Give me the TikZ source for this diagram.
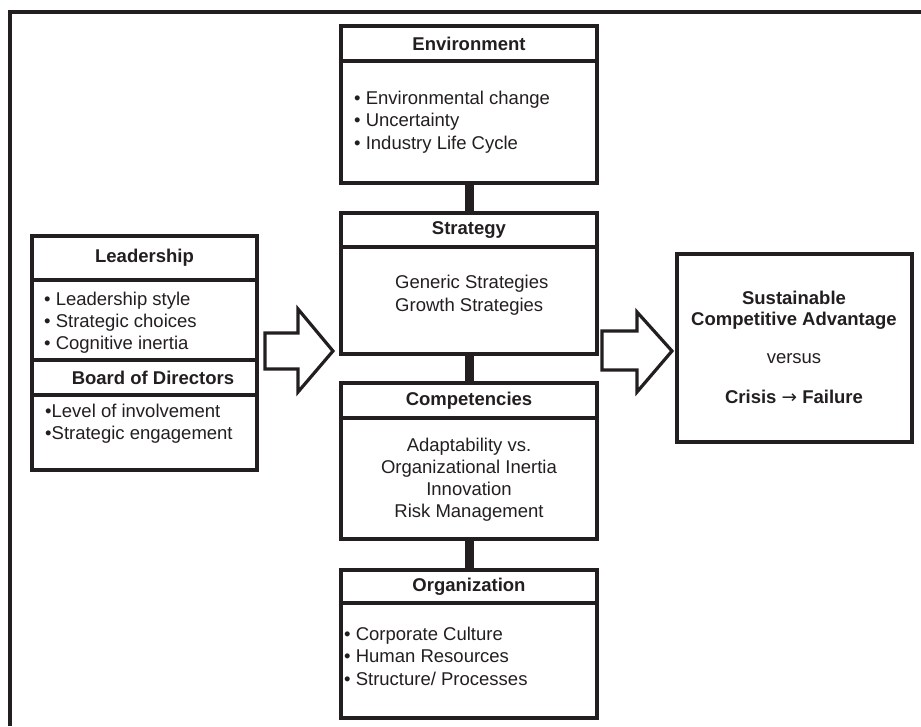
\documentclass[tikz,border=0pt]{standalone}
\usepackage{fontspec}
\setmainfont{Liberation Sans}
\newfontfamily\symfont{DejaVu Sans}
\definecolor{ink}{HTML}{231F20}
\begin{document}
\begin{tikzpicture}[x=1pt,y=-1pt,
  font=\fontsize{18.5}{22}\selectfont,
  box/.style={draw=ink, line width=3.2pt, fill=white, inner sep=0pt, outer sep=0pt, anchor=north west, minimum width=256pt},
  ttl/.style={font=\fontsize{18.5}{22}\selectfont\bfseries, text=ink, inner sep=0pt},
  txt/.style={text=ink, inner sep=0pt, align=left},
  ctxt/.style={text=ink, inner sep=0pt, align=center},
  conn/.style={draw=ink, line width=9pt},
  frameline/.style={draw=ink, line width=4pt},
  blockarrow/.style={draw=ink, line width=3.2pt, fill=white, line join=miter}]
\useasboundingbox (0,0) rectangle (921,726);
% outer frame
\coordinate (fTL) at (8,12);
\coordinate (fTR) at (921,12);
\coordinate (fL1) at (10,12);
\coordinate (fL2) at (10,726);
\draw[frameline] (fTL) -- (fTR);
\draw[frameline] (fL1) -- (fL2);

% centre column
\node[box, minimum height=35pt] (envT) at (341,26) {};
\node[box, minimum height=122pt] (envB) at (341,61) {};
\node[box, minimum height=34pt] (strT) at (341,213) {};
\node[box, minimum height=107pt] (strB) at (341,247) {};
\node[box, minimum height=35pt] (comT) at (341,383) {};
\node[box, minimum height=121pt] (comB) at (341,418) {};
\node[box, minimum height=33pt] (orgT) at (341,570) {};
\node[box, minimum height=115pt] (orgB) at (341,603) {};

% left column
\node[box, minimum width=225pt, minimum height=44pt] (ledT) at (32,236) {};
\node[box, minimum width=225pt, minimum height=80pt] (ledB) at (32,280) {};
\node[box, minimum width=225pt, minimum height=35pt] (bodT) at (32,360) {};
\node[box, minimum width=225pt, minimum height=75pt] (bodB) at (32,395) {};

% right box
\node[box, minimum width=235pt, minimum height=188pt] (outc) at (677,254) {};

% connectors
\draw[conn] (envB.south) -- (strT.north);
\draw[conn] (strB.south) -- (comT.north);
\draw[conn] (comB.south) -- (orgT.north);

% block arrows
\draw[blockarrow] (265,333) -- (298,333) -- (298,309) -- (333,351) -- (298,392) -- (298,369) -- (265,369) -- cycle;
\draw[blockarrow] (602,331) -- (637,331) -- (637,312) -- (672,351) -- (637,392) -- (637,370) -- (602,370) -- cycle;

% titles
\node[ttl] (envTt) at (469,43.5) {Environment};
\node[ttl] (strTt) at (469,230) {Strategy};
\node[ttl] (comTt) at (469,400.5) {Competencies};
\node[ttl] (orgTt) at (469,586.5) {Organization};
\node[ttl] (ledTt) at (144.5,258) {Leadership};
\node[ttl] (bodTt) at (153,377.5) {Board of Directors};

% bodies
\node[txt, anchor=west, font=\fontsize{18.5}{22.5}\selectfont] (envTx) at (354,122) {• Environmental change\\• Uncertainty\\• Industry Life Cycle};
\node[txt, anchor=west, font=\fontsize{18.5}{23}\selectfont] (strTx) at (395,295) {Generic Strategies\\Growth Strategies};
\node[ctxt] (comTx) at (469,480) {Adaptability vs.\\Organizational Inertia\\Innovation\\Risk Management};
\node[txt, anchor=west, font=\fontsize{18.5}{22.5}\selectfont] (orgTx) at (344,656) {• Corporate Culture\\• Human Resources\\• Structure/ Processes};
\node[txt, anchor=west] (ledTx) at (44,323) {• Leadership style\\• Strategic choices\\• Cognitive inertia};
\node[txt, anchor=west] (bodTx) at (45,424) {•Level of involvement\\•Strategic engagement};

% outcome
\node[ctxt, font=\fontsize{18.5}{21}\selectfont\bfseries] (sca) at (794,310.5) {Sustainable\\Competitive Advantage};
\node[ctxt] (vs) at (794,359) {versus};
\node[ctxt, font=\fontsize{18.5}{22}\selectfont\bfseries] (cf) at (794,397) {Crisis {\symfont\mdseries →} Failure};
\end{tikzpicture}
\end{document}
